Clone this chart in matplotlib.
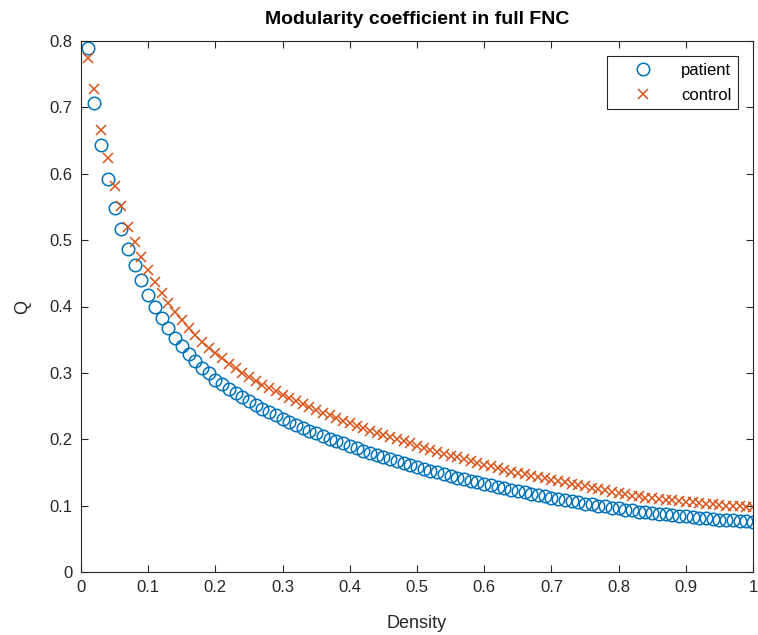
import numpy as np
import matplotlib.pyplot as plt

# density steps 0.01 .. 1.00
density = np.round(np.arange(1, 101) * 0.01, 2)

patient_q = [
    0.790, 0.706, 0.643, 0.592, 0.548, 0.517, 0.486, 0.462, 0.440, 0.418,
    0.400, 0.382, 0.367, 0.352, 0.340, 0.328, 0.318, 0.308, 0.300, 0.290,
    0.283, 0.276, 0.269, 0.263, 0.257, 0.251, 0.246, 0.241, 0.236, 0.231,
    0.226, 0.222, 0.217, 0.213, 0.209, 0.205, 0.201, 0.197, 0.194, 0.190,
    0.187, 0.183, 0.180, 0.177, 0.173, 0.170, 0.167, 0.164, 0.161, 0.158,
    0.155, 0.152, 0.150, 0.147, 0.145, 0.142, 0.140, 0.137, 0.135, 0.133,
    0.131, 0.128, 0.126, 0.124, 0.122, 0.120, 0.118, 0.116, 0.114, 0.112,
    0.110, 0.108, 0.107, 0.105, 0.103, 0.102, 0.100, 0.099, 0.097, 0.096,
    0.094, 0.093, 0.091, 0.090, 0.089, 0.088, 0.087, 0.086, 0.085, 0.084,
    0.083, 0.082, 0.081, 0.080, 0.079, 0.078, 0.078, 0.077, 0.077, 0.076,
]

control_q = [
    0.775, 0.727, 0.666, 0.623, 0.581, 0.551, 0.520, 0.497, 0.475, 0.455,
    0.437, 0.420, 0.405, 0.392, 0.380, 0.368, 0.357, 0.347, 0.338, 0.330,
    0.322, 0.314, 0.307, 0.300, 0.294, 0.288, 0.282, 0.277, 0.272, 0.267,
    0.262, 0.257, 0.253, 0.248, 0.244, 0.240, 0.236, 0.232, 0.228, 0.224,
    0.220, 0.217, 0.213, 0.210, 0.207, 0.203, 0.200, 0.197, 0.194, 0.190,
    0.187, 0.184, 0.181, 0.178, 0.175, 0.173, 0.170, 0.167, 0.164, 0.161,
    0.159, 0.156, 0.154, 0.151, 0.149, 0.147, 0.145, 0.143, 0.141, 0.139,
    0.137, 0.135, 0.133, 0.131, 0.129, 0.127, 0.125, 0.123, 0.121, 0.119,
    0.117, 0.115, 0.114, 0.112, 0.111, 0.110, 0.109, 0.108, 0.107, 0.106,
    0.105, 0.104, 0.103, 0.102, 0.101, 0.100, 0.099, 0.099, 0.098, 0.098,
]

x_ticks = [0, 0.1, 0.2, 0.3, 0.4, 0.5, 0.6, 0.7, 0.8, 0.9, 1]
y_ticks = [0, 0.1, 0.2, 0.3, 0.4, 0.5, 0.6, 0.7, 0.8]

plt.rcParams['font.family'] = ['Liberation Sans', 'DejaVu Sans']

fig = plt.figure(figsize=(7.58, 6.35), dpi=100)
ax = fig.add_axes([81 / 758, 1 - 572 / 635, 672 / 758, 531 / 635])

ax.plot(density, patient_q, linestyle='none', marker='o', markersize=9,
        markerfacecolor='none', markeredgecolor='#0072BD', markeredgewidth=1.1,
        label='patient')
ax.plot(density, control_q, linestyle='none', marker='x', markersize=7,
        color='#D95319', markeredgewidth=1.1, label='control')

ax.set_xlim(0, 1)
ax.set_ylim(0, 0.8)
ax.set_xticks(x_ticks)
ax.set_xticklabels(['%g' % t for t in x_ticks])
ax.set_yticks(y_ticks)
ax.set_yticklabels(['%g' % t for t in y_ticks])
ax.tick_params(direction='in', top=True, right=True, length=5, width=0.8,
               labelsize=12, colors='#262626', pad=6)
for s in ax.spines.values():
    s.set_color('#262626')
    s.set_linewidth(0.8)

ax.set_title('Modularity coefficient in full FNC', fontsize=14, fontweight='bold', pad=12)
ax.set_xlabel('Density', fontsize=13, color='#262626', labelpad=14)
ax.set_ylabel('Q', fontsize=13, color='#262626', labelpad=13)

leg = ax.legend(loc='upper right', fontsize=12, fancybox=False, framealpha=1,
                edgecolor='#262626', borderaxespad=0.9, handletextpad=0.45,
                markerfirst=True, handlelength=3.6, labelspacing=0.6)
leg.get_frame().set_linewidth(0.8)

fig.savefig('out.png', dpi=100)
